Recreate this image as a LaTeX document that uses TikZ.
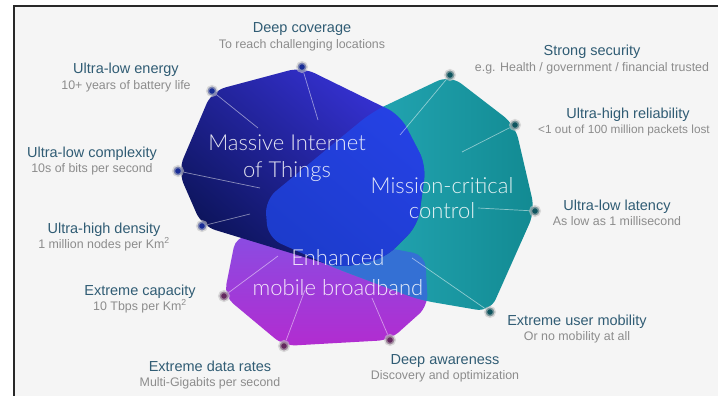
\documentclass[tikz,border=0pt]{standalone}
\usepackage{fontspec}
\setmainfont{Liberation Sans}
\newfontfamily\thinfont{Lato Light}
\usetikzlibrary{positioning}

\definecolor{headc}{RGB}{48,92,116}
\definecolor{subc}{RGB}{140,140,140}
\definecolor{bgc}{RGB}{245,245,245}
\definecolor{framec}{RGB}{40,40,40}
\definecolor{mdark}{RGB}{12,20,90}
\definecolor{mbright}{RGB}{55,50,215}
\definecolor{mblob}{RGB}{32,72,235}
\definecolor{ctop}{RGB}{45,182,198}
\definecolor{cbot}{RGB}{18,138,146}
\definecolor{etop}{RGB}{138,76,226}
\definecolor{ebot}{RGB}{178,44,208}
\definecolor{ecmix}{RGB}{52,112,212}
\definecolor{dotm}{RGB}{25,45,150}
\definecolor{dotc}{RGB}{15,85,95}
\definecolor{dote}{RGB}{100,40,95}

\begin{document}
\begin{tikzpicture}[x=1pt, y=-1pt,
    head/.style={font=\fontsize{14.5}{16}\selectfont, text=headc, inner sep=0pt, anchor=base},
    sub/.style={font=\fontsize{12.4}{14}\selectfont, text=subc, inner sep=0pt, text height=9pt, anchor=north},
    big/.style={font=\thinfont\fontsize{22}{24}\selectfont, text=white, text opacity=0.88, inner sep=0pt, anchor=base},
    spoke/.style={white, line width=0.7pt, opacity=0.5},
    corner/.style={circle, inner sep=0pt, minimum size=9pt, draw=gray!45, line width=3pt, draw opacity=0.6},
    dotm/.style={corner, fill=dotm},
    dotc/.style={corner, fill=dotc},
    dote/.style={corner, fill=dote}]
    \useasboundingbox (0,0) rectangle (718,396);
    \clip (0,0) rectangle (718,396);
    \fill[white] (0,0) rectangle (718,396);
    \fill[bgc] (14,6) rectangle (718,396);
    \draw[framec, line width=1.5pt] (14,396) -- (14,6) -- (718,6);

    % Shapes {eMBB, critical, mMTC}
    \def\embbpath{(236,236) -- (224,296) -- (284,346) -- (390,340) -- (428,306) -- (425,255) -- (320,235) -- cycle}
    \def\critpath{(450,75) -- (515,125) -- (535,211) -- (490,312) -- (420,300) -- (335,268) -- (268,238) -- (265,200) -- (372,112) -- cycle}
    \def\mtcpath{(302,67) -- (400,115) -- (426,165) -- (418,225) -- (385,258) -- (340,268) -- (202,226) -- (178,171) -- (212,91) -- cycle}
    \shade[rounded corners=12pt, top color=etop, bottom color=ebot] \embbpath;
    \shade[rounded corners=14pt, left color=ctop, right color=cbot] \critpath;
    \begin{scope}
        \clip[rounded corners=14pt] \critpath;
        \fill[rounded corners=12pt, ecmix] \embbpath;
    \end{scope}
    \shade[rounded corners=14pt, top color=mbright, bottom color=mdark, shading angle=-40] \mtcpath;
    \begin{scope}
        \clip[rounded corners=14pt] \mtcpath;
        \fill[rounded corners=14pt, mblob, opacity=0.75] \critpath;
    \end{scope}

    % Corners {mMTC, critical, eMBB}
    \node [dotm] (cov)  at (302,67)  {};
    \node [dotm] (nrg)  at (212,91)  {};
    \node [dotm] (cpx)  at (178,171) {};
    \node [dotm] (dns)  at (202,226) {};
    \node [dotc] (sec)  at (450,75)  {};
    \node [dotc] (rel)  at (515,125) {};
    \node [dotc] (lat)  at (535,211) {};
    \node [dotc] (mob)  at (490,312) {};
    \node [dote] (cap)  at (224,296) {};
    \node [dote] (rat)  at (284,346) {};
    \node [dote] (awa)  at (390,340) {};

    % Spokes
    \coordinate (covin) at (318,120);
    \coordinate (nrgin) at (258,128);
    \coordinate (cpxin) at (260,188);
    \coordinate (dnsin) at (250,214);
    \coordinate (secin) at (400,135);
    \coordinate (relin) at (462,152);
    \coordinate (latin) at (478,208);
    \coordinate (mobin) at (412,258);
    \coordinate (capin) at (278,256);
    \coordinate (ratin) at (305,290);
    \coordinate (awain) at (372,298);
    \foreach \c in {cov,nrg,cpx,dns,sec,rel,lat,mob,cap,rat,awa}
        \draw [spoke] (\c) -- (\c in);

    % Shape labels
    \node [big] (mtc1)  at (287,150) {Massive Internet};
    \node [big] (mtc2)  at (287,177) {of Things};
    \node [big] (crit1) at (442,193) {Mission-critical};
    \node [big] (crit2) at (442,218) {control};
    \node [big] (embb1) at (338,265) {Enhanced};
    \node [big] (embb2) at (338,295) {mobile broadband};

    % Corner labels
    \node [head] (covt) at (302,33)  {Deep coverage};
    \node [sub, below=6pt of covt.base] (covs) {To reach challenging locations};
    \node [head] (nrgt) at (126,74)  {Ultra-low energy};
    \node [sub, below=6pt of nrgt.base] (nrgs) {10+ years of battery life};
    \node [head] (cpxt) at (92,157)  {Ultra-low complexity};
    \node [sub, below=6pt of cpxt.base] (cpxs) {10s of bits per second};
    \node [head] (dnst) at (104,233) {Ultra-high density};
    \node [sub, below=6pt of dnst.base] (dnss) {1 million nodes per Km\textsuperscript{2}};
    \node [head] (capt) at (140,295) {Extreme capacity};
    \node [sub, below=6pt of capt.base] (caps) {10 Tbps per Km\textsuperscript{2}};
    \node [head] (ratt) at (210,371) {Extreme data rates};
    \node [sub, below=6pt of ratt.base] (rats) {Multi-Gigabits per second};
    \node [head] (awat) at (445,364) {Deep awareness};
    \node [sub, below=6pt of awat.base] (awas) {Discovery and optimization};
    \node [head] (mobt) at (577,325) {Extreme user mobility};
    \node [sub, below=6pt of mobt.base] (mobs) {Or no mobility at all};
    \node [head] (latt) at (617,210) {Ultra-low latency};
    \node [sub, below=6pt of latt.base] (lats) {As low as 1 millisecond};
    \node [head] (relt) at (628,118) {Ultra-high reliability};
    \node [sub, font=\fontsize{11.8}{14}\selectfont, below=6pt of relt.base, xshift=-4pt] (rels) {<1 out of 100 million packets lost};
    \node [head] (sect) at (592,56)  {Strong security};
    \node [sub, below=6pt of sect.base] (secs) {e.g. Health / government / financial trusted};
\end{tikzpicture}
\end{document}
